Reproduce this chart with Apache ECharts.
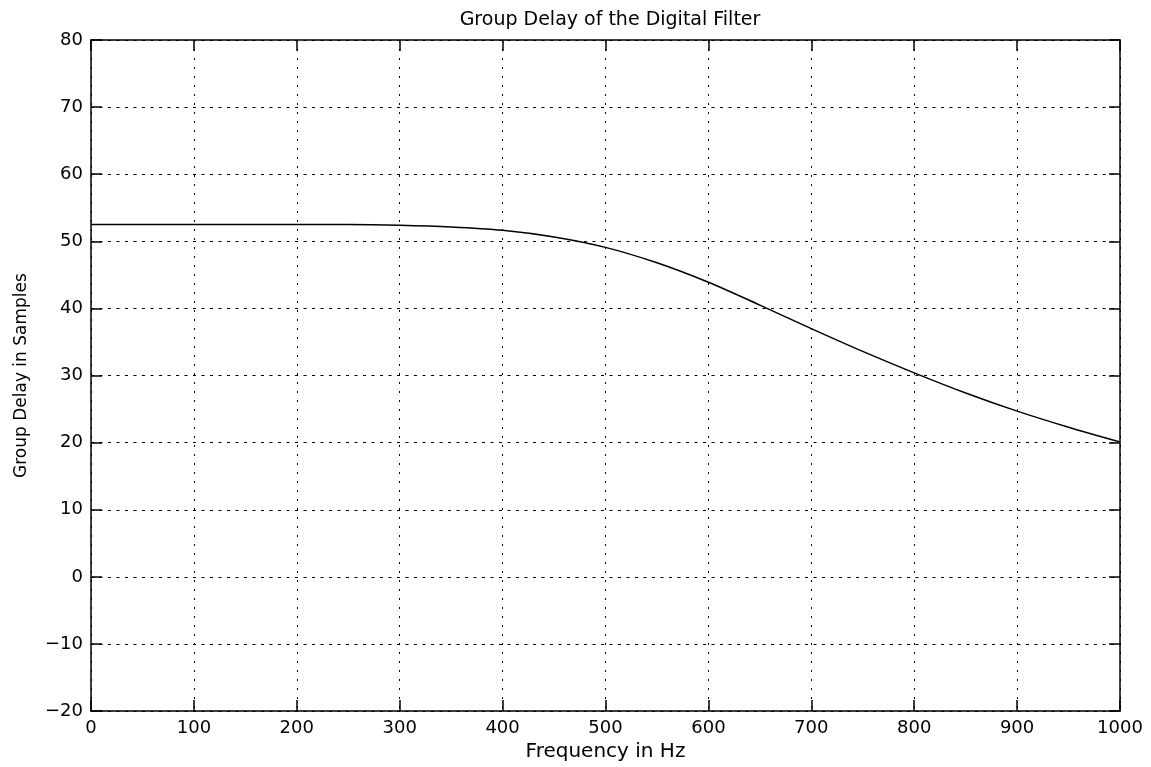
<!DOCTYPE html>
<html>
<head>
<meta charset="utf-8">
<script src="https://cdn.jsdelivr.net/npm/echarts@6/dist/echarts.min.js"></script>
<style>html,body{margin:0;padding:0;background:#fff}#c{width:1151px;height:767px}</style>
</head>
<body>
<div id="c"></div>
<script>
const frequencyHz = [0,50,100,150,200,250,300,350,400,450,500,550,600,650,700,750,800,850,900,950,1000];
const groupDelay = [52.5,52.5,52.5,52.5,52.5,52.5,52.4,52.15,51.65,50.65,49.1,46.8,43.9,40.5,37.0,33.6,30.4,27.4,24.7,22.3,20.1];
const titleText = 'Group Delay of the Digital Filter';
const xName = 'Frequency in Hz';
const yName = 'Group Delay in Samples';

const chart = echarts.init(document.getElementById('c'), null, {renderer: 'canvas'});
const font = 'DejaVu Sans';
const fmt = v => (v < 0 ? '\u2212' + Math.abs(v) : String(v));
function axisBase() {
  return {
    axisLine: {show: true, onZero: false, lineStyle: {color: '#000', width: 1.5}},
    axisTick: {show: true, inside: true, length: 11, lineStyle: {color: '#000', width: 1.5}},
    axisLabel: {color: '#000', fontFamily: font, fontSize: 18, formatter: fmt}
  };
}
chart.setOption({
  animation: false,
  backgroundColor: '#fff',
  title: {text: titleText, left: 605, textAlign: 'center', top: 6,
    textStyle: {color: '#000', fontFamily: font, fontSize: 19, fontWeight: 'normal'}},
  grid: {left: 91, right: 31, top: 40, bottom: 55, containLabel: false},
  xAxis: [
    Object.assign(axisBase(), {
      type: 'value', min: 0, max: 1000, interval: 100, position: 'bottom',
      name: xName, nameLocation: 'middle', nameGap: 29,
      nameTextStyle: {color: '#000', fontFamily: font, fontSize: 20},
      splitLine: {show: true, lineStyle: {color: '#000', type: [2, 7], width: 1}}
    }),
    Object.assign(axisBase(), {
      type: 'value', min: 0, max: 1000, interval: 100, position: 'top',
      axisLabel: {show: false}, splitLine: {show: false}
    })
  ],
  yAxis: [
    Object.assign(axisBase(), {
      type: 'value', min: -20, max: 80, interval: 10, position: 'left',
      name: yName, nameLocation: 'middle', nameGap: 61, nameRotate: 90,
      nameTextStyle: {color: '#000', fontFamily: font, fontSize: 17},
      splitLine: {show: true, lineStyle: {color: '#000', type: [3, 5.5], width: 1}}
    }),
    Object.assign(axisBase(), {
      type: 'value', min: -20, max: 80, interval: 10, position: 'right',
      axisLabel: {show: false}, splitLine: {show: false}
    })
  ],
  series: [{
    type: 'line',
    xAxisIndex: 0, yAxisIndex: 0,
    data: frequencyHz.map((f, i) => [f, groupDelay[i]]),
    smooth: 0.3,
    showSymbol: false,
    lineStyle: {color: '#000', width: 1.5}
  }]
});
</script>
</body>
</html>
